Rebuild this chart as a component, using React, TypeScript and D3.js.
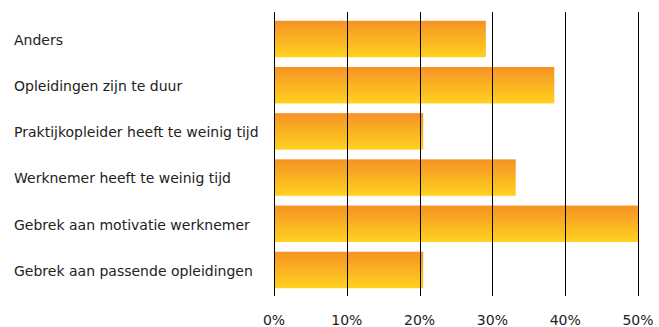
import React from "react";
import * as d3 from "d3";

const categories = [
  "Anders",
  "Opleidingen zijn te duur",
  "Praktijkopleider heeft te weinig tijd",
  "Werknemer heeft te weinig tijd",
  "Gebrek aan motivatie werknemer",
  "Gebrek aan passende opleidingen",
];
const values = [29.1, 38.5, 20.5, 33.2, 50, 20.5];
const ticks = [0, 10, 20, 30, 40, 50];

const W = 659;
const H = 327;

export default function App() {
  const x = d3.scaleLinear().domain([0, 50]).range([274, 638]);
  const y = d3
    .scaleBand<string>()
    .domain(categories)
    .range([12, 297])
    .paddingInner(0.21)
    .paddingOuter(0.19);
  const font = "Verdana, 'DejaVu Sans', sans-serif";
  return (
    <svg
      width={W}
      height={H}
      style={{ position: "absolute", left: 0, top: 0 }}
      fontFamily={font}
    >
      <defs>
        <linearGradient id="barGrad" x1="0" y1="0" x2="0" y2="1">
          <stop offset="0%" stopColor="#f59225" />
          <stop offset="100%" stopColor="#ffd21f" />
        </linearGradient>
      </defs>
      <rect width={W} height={H} fill="#fff" />
      {categories.map((c, i) => (
        <rect
          key={c}
          x={x(0)}
          y={y(c)}
          width={x(values[i]) - x(0)}
          height={y.bandwidth()}
          fill="url(#barGrad)"
        />
      ))}
      {ticks.map((t) => (
        <line
          key={t}
          x1={Math.round(x(t)) + 0.5}
          x2={Math.round(x(t)) + 0.5}
          y1={12}
          y2={296}
          stroke="#000"
          strokeWidth={1}
        />
      ))}
      {ticks.map((t) => (
        <text
          key={"t" + t}
          x={x(t)}
          y={325}
          textAnchor="middle"
          fontSize={14}
          fill="#222"
        >
          {t + "%"}
        </text>
      ))}
      {categories.map((c) => (
        <text
          key={"l" + c}
          x={14}
          y={(y(c) as number) + y.bandwidth() / 2 + 1}
          dy="0.35em"
          fontSize={14}
          fill="#222"
        >
          {c}
        </text>
      ))}
    </svg>
  );
}
